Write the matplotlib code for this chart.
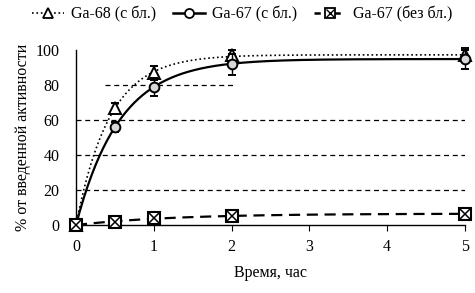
import numpy as np
import matplotlib
matplotlib.use("Agg")
import matplotlib.pyplot as plt
from matplotlib.legend_handler import HandlerTuple
from matplotlib.lines import Line2D

t = [0, 0.5, 1, 2, 5]
ga68 = [0, 67, 87, 97, 97]
ga68_err = [0, 3, 4, 3, 3]
ga67 = [0, 56, 79, 92, 95]
ga67_err = [0, 3, 5, 6, 6]
ga67_nb = [0, 1.5, 4, 5.3, 6.3]
ga67_nb_err = [0, 0.5, 0.5, 0.5, 0.5]

labels = ["Ga-68 (с бл.)", "Ga-67 (с бл.)", "Ga-67 (без бл.)"]
yticks = [0, 20, 40, 60, 80, 100]
xticks = [0, 1, 2, 3, 4, 5]

plt.rcParams['font.family'] = ['Liberation Serif', 'DejaVu Serif']
plt.rcParams['font.size'] = 11.5

fig = plt.figure(figsize=(4.75, 2.93), dpi=100)
ax = fig.add_axes([0.16, 0.232, 0.819, 0.597])


def fit_exp(x, y):
    x = np.asarray(x, float); y = np.asarray(y, float)
    best = None
    for k in np.linspace(0.05, 6, 1200):
        b = 1 - np.exp(-k * x)
        A = (b @ y) / (b @ b)
        r = np.sum((A * b - y) ** 2)
        if best is None or r < best[0]:
            best = (r, A, k)
    return best[1], best[2]


tt = np.linspace(0, 5, 300)
styles = [(':', 1.2), ('-', 1.6), ((0, (5, 3)), 1.6)]
for ys, (ls, lw) in zip([ga68, ga67, ga67_nb], styles):
    A, k = fit_exp(t, ys)
    ax.plot(tt, A * (1 - np.exp(-k * tt)), color='black', linestyle=ls, lw=lw, zorder=2)

ax.errorbar(t, ga68, yerr=ga68_err, fmt='^', ms=8.5, mfc='white', mec='black', mew=1.4,
            ecolor='black', elinewidth=1, capsize=3, zorder=4, clip_on=False)
ax.errorbar(t, ga67, yerr=ga67_err, fmt='o', ms=7, mfc='#d8d8d8', mec='black', mew=1.4,
            ecolor='black', elinewidth=1, capsize=3, zorder=5, clip_on=False)
ax.errorbar(t, ga67_nb, yerr=ga67_nb_err, fmt='s', ms=9, mfc='white', mec='black', mew=1.5,
            ecolor='black', elinewidth=1, capsize=2, zorder=5, clip_on=False)
ax.plot(t, ga67_nb, 'x', ms=7.5, mec='black', mew=1.1, zorder=6, clip_on=False)

for g in [20, 40, 60]:
    ax.axhline(g, color='black', lw=0.9, ls=(0, (4, 3)), zorder=1)
ax.axhline(80, xmin=0.075, xmax=0.41, color='black', lw=0.9, ls=(0, (4, 3)), zorder=1)

ax.set_xlim(0, 5)
ax.set_ylim(0, 100)
ax.set_xticks(xticks)
ax.set_yticks(yticks)
ax.tick_params(axis='y', length=0, pad=12)
ax.tick_params(axis='x', length=4, direction='out', pad=6)
for s in ['top', 'right']:
    ax.spines[s].set_visible(False)
for s in ['left', 'bottom']:
    ax.spines[s].set_linewidth(1.0)

ax.set_xlabel("Время, час", labelpad=7)
ax.set_ylabel("% от введенной активности", labelpad=3)

h1 = (Line2D([], [], color='black', ls=':', lw=1.2),
      Line2D([], [], marker='^', ls='none', ms=7, mfc='white', mec='black', mew=1.3))
h2 = (Line2D([], [], color='black', ls='-', lw=1.8),
      Line2D([], [], marker='o', ls='none', ms=6.5, mfc='white', mec='black', mew=1.3))
h3 = (Line2D([], [], color='black', ls=(0, (2.5, 5.5)), lw=1.8),
      Line2D([], [], marker='s', ls='none', ms=7, mfc='white', mec='black', mew=1.3),
      Line2D([], [], marker='x', ls='none', ms=6, mec='black', mew=1))
fig.legend([h1, h2, h3], labels, handler_map={tuple: HandlerTuple(ndivide=1, pad=0)},
           loc='center', bbox_to_anchor=(0.51, 0.95), ncol=3, frameon=False,
           handlelength=2.0, handletextpad=0.4, columnspacing=1.1,
           prop={'family': ['Liberation Serif', 'DejaVu Serif'], 'size': 11.5})

fig.savefig("out.png", dpi=100)
